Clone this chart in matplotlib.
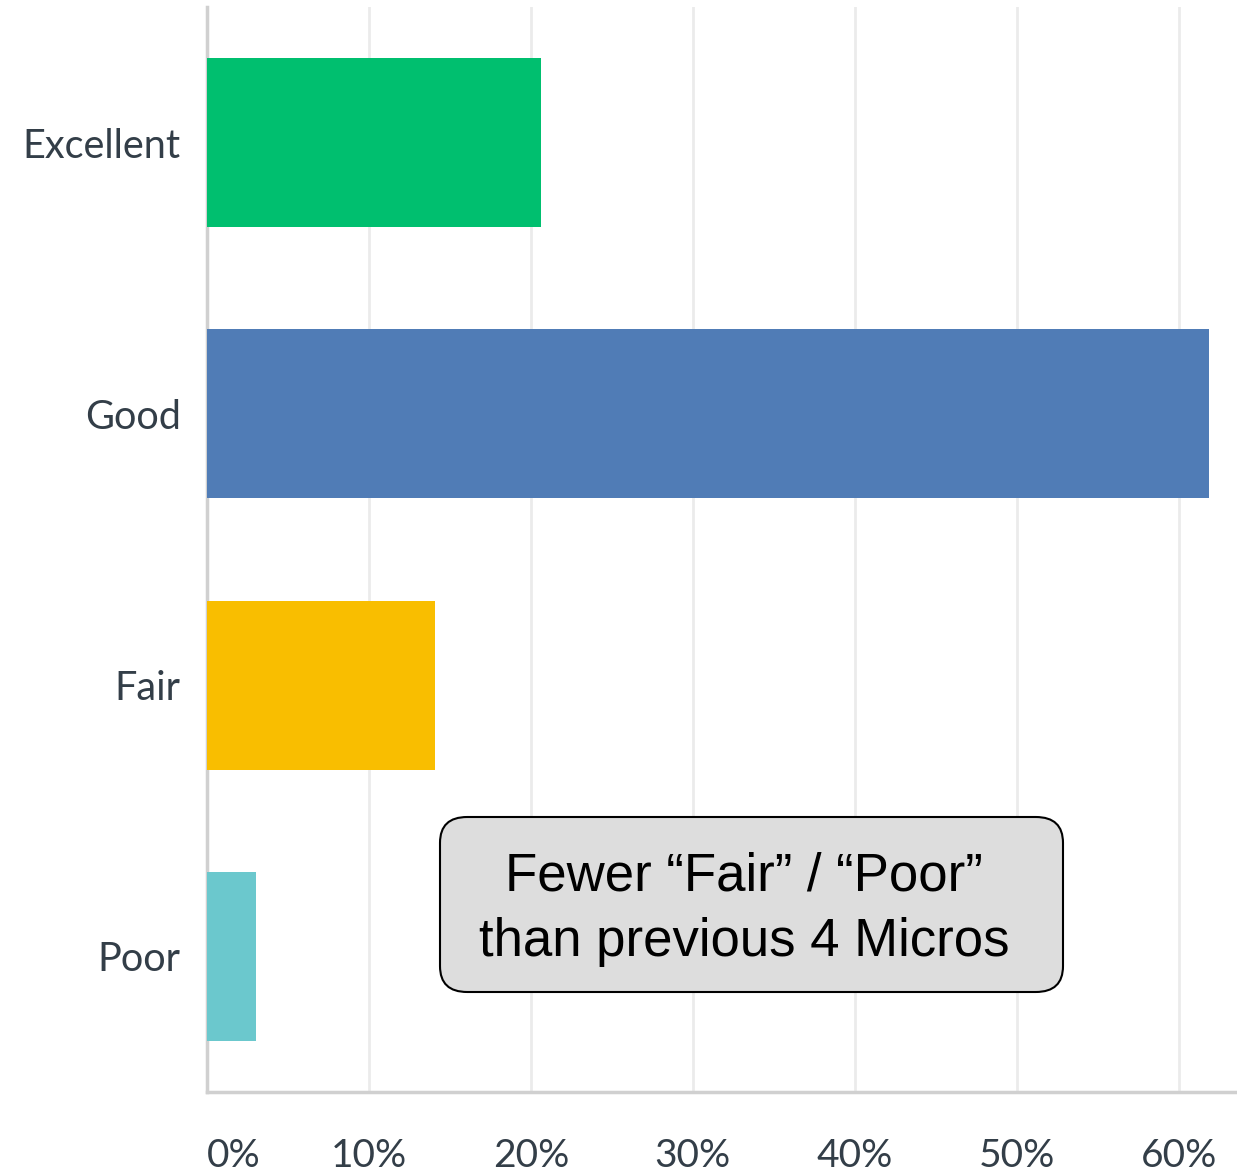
import matplotlib.pyplot as plt
from matplotlib.patches import FancyBboxPatch

categories = ['Excellent', 'Good', 'Fair', 'Poor']
percent = [20.6, 61.9, 14.1, 3.0]
bar_colors = ['#00bf6f', '#507cb6', '#f9be00', '#6bc8cd']
ticks = [0, 10, 20, 30, 40, 50, 60]
tick_labels = ['0%', '10%', '20%', '30%', '40%', '50%', '60%']
note = 'Fewer \u201cFair\u201d / \u201cPoor\u201d\nthan previous 4 Micros'

fig = plt.figure(figsize=(12.37, 11.74), dpi=100)
ax = fig.add_axes([207 / 1237, 1 - 1092 / 1174, 1 - 207 / 1237, (1092 - 7) / 1174])

ax.barh(range(len(categories)), percent, height=0.623, color=bar_colors, zorder=3)
ax.set_ylim(3.5, -0.5)
ax.set_xlim(0, 63.6)

ax.set_xticks(ticks)
ax.set_xticklabels(tick_labels)
ax.set_yticks(range(len(categories)))
ax.set_yticklabels(categories)
ax.tick_params(axis='both', length=0, colors='#333e48')
ax.tick_params(axis='x', labelsize=28, pad=33)
ax.tick_params(axis='y', labelsize=28.5, pad=19)
for lab in ax.get_xticklabels() + ax.get_yticklabels():
    lab.set_family('Lato')
ax.get_xticklabels()[0].set_horizontalalignment('left')

ax.grid(axis='x', color='#ebebeb', linewidth=2, zorder=0)
for s in ['top', 'right']:
    ax.spines[s].set_visible(False)
for s in ['left', 'bottom']:
    ax.spines[s].set_color('#d0d0d0')
    ax.spines[s].set_linewidth(2.5)

# callout box
W, H = 1237, 1174
box = FancyBboxPatch((440 / W, 1 - 992 / H), (1063 - 440) / W, (992 - 817) / H,
                     boxstyle='round,pad=0,rounding_size=0.022',
                     transform=fig.transFigure, facecolor='#dddddd',
                     edgecolor='black', linewidth=1.5, zorder=5)
fig.patches.append(box)
fig.text(744 / W, 1 - 909 / H, note, ha='center', va='center',
         fontsize=38, family='Liberation Sans', linespacing=1.4, zorder=6)

fig.savefig('out.png', dpi=100)
